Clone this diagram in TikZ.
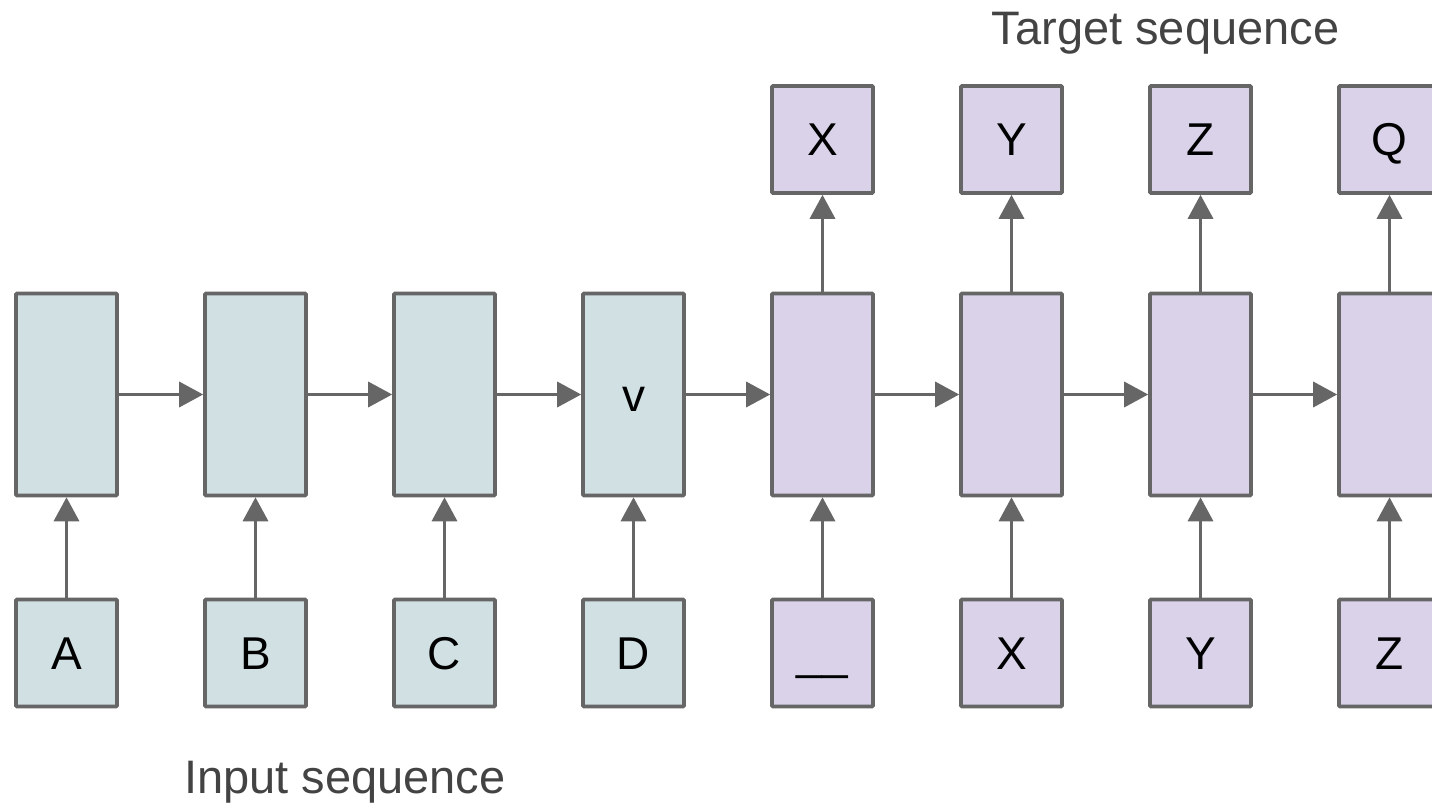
\documentclass[tikz,border=0pt]{standalone}
\usepackage{fontspec}
\setmainfont{Liberation Sans}
\usetikzlibrary{arrows.meta}
\definecolor{edge}{HTML}{666666}
\definecolor{encfill}{HTML}{D0E0E3}
\definecolor{decfill}{HTML}{D9D2E9}
\definecolor{captxt}{HTML}{434343}
\begin{document}
\begin{tikzpicture}[x=1pt,y=-1pt,
  box/.style={draw=edge, line width=3.6pt, inner sep=0pt, rounded corners=1pt,
    font=\fontsize{46}{55}\selectfont, text=black, text height=33pt, text depth=0pt},
  tallenc/.style={box, fill=encfill, minimum width=101pt, minimum height=202pt},
  talldec/.style={box, fill=decfill, minimum width=101pt, minimum height=202pt},
  smallenc/.style={box, fill=encfill, minimum width=101pt, minimum height=107pt},
  smalldec/.style={box, fill=decfill, minimum width=101pt, minimum height=107pt},
  arr/.style={draw=edge, line width=3.4pt, -{Triangle[length=24pt,width=25pt]}, color=edge},
  caption/.style={font=\fontsize{47}{56}\selectfont, text=captxt, inner sep=0pt, anchor=base}
]
\clip (0,0) rectangle (1432,810);
\fill[white] (0,0) rectangle (1432,810);
% tall boxes
\node[tallenc] (h1) at (66.5,394.5) {};
\node[tallenc] (h2) at (255.5,394.5) {};
\node[tallenc] (h3) at (444.5,394.5) {};
\node[tallenc] (h4) at (633.5,394.5) {v};
\node[talldec] (h5) at (822.5,394.5) {};
\node[talldec] (h6) at (1011.5,394.5) {};
\node[talldec] (h7) at (1200.5,394.5) {};
\node[talldec] (h8) at (1389.5,394.5) {};
% inputs
\node[smallenc] (i1) at (66.5,653) {A};
\node[smallenc] (i2) at (255.5,653) {B};
\node[smallenc] (i3) at (444.5,653) {C};
\node[smallenc] (i4) at (633.5,653) {D};
\node[smalldec] (i5) at (822.5,653) {\char"005F\char"005F};
\node[smalldec] (i6) at (1011.5,653) {X};
\node[smalldec] (i7) at (1200.5,653) {Y};
\node[smalldec] (i8) at (1389.5,653) {Z};
% outputs
\node[smalldec] (o5) at (822.5,139.5) {X};
\node[smalldec] (o6) at (1011.5,139.5) {Y};
\node[smalldec] (o7) at (1200.5,139.5) {Z};
\node[smalldec] (o8) at (1389.5,139.5) {Q};
% horizontal arrows
\foreach \a/\b in {h1/h2,h2/h3,h3/h4,h4/h5,h5/h6,h6/h7,h7/h8}
  \draw[arr] (\a.east) -- (\b.west);
% input arrows
\foreach \n in {1,...,8}
  \draw[arr] (i\n.north) -- (h\n.south);
% output arrows
\foreach \n in {5,...,8}
  \draw[arr] (h\n.north) -- (o\n.south);
% captions
\node[caption] (tgt) at (1165.5,45) {Target sequence};
\node[caption] (inp) at (345,793) {Input sequence};
\end{tikzpicture}
\end{document}
